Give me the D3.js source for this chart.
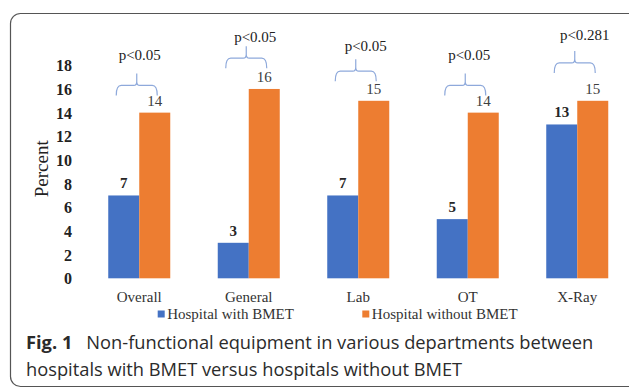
<!DOCTYPE html>
<html>
<head>
<meta charset="utf-8">
<script src="https://cdn.jsdelivr.net/npm/d3@7/dist/d3.min.js"></script>
<style>
  html, body { margin: 0; padding: 0; background: #fff; }
  svg { display: block; }
</style>
</head>
<body>
<svg id="chart" width="629" height="388"></svg>
<script>
// ---- data ----
const categories = ["Overall", "General", "Lab", "OT", "X-Ray"];
const seriesNames = ["Hospital with BMET", "Hospital without BMET"];
const withBMET = [7, 3, 7, 5, 13];
const withoutBMET = [14, 16, 15, 14, 15];
const pLabels = ["p<0.05", "p<0.05", "p<0.05", "p<0.05", "p<0.281"];
const bracketLevel = [16.3, 18.6, 17.5, 16.3, 18.2];   // in percent units
const pLabelLevel = [18.9, 20.4, 19.6, 18.9, 20.6];    // in percent units
const yTicks = [0, 2, 4, 6, 8, 10, 12, 14, 16, 18];
const captionBold = "Fig. 1";
const captionLine1 = "Non-functional equipment in various departments between";
const captionLine2 = "hospitals with BMET versus hospitals without BMET";

// ---- layout / style ----
const colors = ["#4472C4", "#ED7D31"];
const serif = "'Liberation Serif', 'Times New Roman', serif";
const svg = d3.select("#chart");

// frame
svg.append("rect")
  .attr("x", 10.5).attr("y", 13.5)
  .attr("width", 640).attr("height", 373)
  .attr("rx", 10).attr("ry", 10)
  .attr("fill", "none").attr("stroke", "#555").attr("stroke-width", 1.2);

const x0 = d3.scaleBand().domain(categories).range([84.5, 632]).padding(0);
const x1 = d3.scaleBand().domain(seriesNames).range([0, x0.bandwidth()]).paddingInner(0).paddingOuter(0.766);
const y = d3.scaleLinear().domain([0, 18]).range([278.3, 65.3]);

// y axis
const yAxis = d3.axisLeft(y).tickValues(yTicks).tickSize(0).tickPadding(0);
const gy = svg.append("g").attr("transform", "translate(72,0)").call(yAxis);
gy.select(".domain").remove();
gy.selectAll("text")
  .attr("font-family", serif).attr("font-size", 16).attr("font-weight", "bold")
  .attr("fill", "#222").attr("dy", "0.34em");

svg.append("text")
  .attr("transform", `translate(48,${(y(0) + y(18)) / 2 - 3}) rotate(-90)`)
  .attr("text-anchor", "middle")
  .attr("font-family", serif).attr("font-size", 19).attr("fill", "#222")
  .text("Percent");

// bars
const rows = categories.map((c, i) => ({ cat: c, vals: [withBMET[i], withoutBMET[i]] }));
const groups = svg.append("g").selectAll("g").data(rows).join("g")
  .attr("transform", d => `translate(${x0(d.cat)},0)`);
groups.selectAll("rect").data(d => d.vals.map((v, j) => ({ s: seriesNames[j], v, j }))).join("rect")
  .attr("x", d => x1(d.s)).attr("width", x1.bandwidth())
  .attr("y", d => y(d.v)).attr("height", d => y(0) - y(d.v))
  .attr("fill", d => colors[d.j]);
groups.selectAll("text.val").data(d => d.vals.map((v, j) => ({ s: seriesNames[j], v, j }))).join("text")
  .attr("class", "val")
  .attr("x", d => x1(d.s) + x1.bandwidth() / 2)
  .attr("y", d => y(d.v) - 7)
  .attr("text-anchor", "middle")
  .attr("font-family", serif).attr("font-size", 15)
  .attr("font-weight", d => d.j === 0 ? "bold" : "normal")
  .attr("fill", d => d.j === 0 ? "#262626" : "#404040")
  .text(d => d.v);

// category labels
svg.append("g").selectAll("text").data(categories).join("text")
  .attr("x", d => x0(d) + x0.bandwidth() / 2)
  .attr("y", 302)
  .attr("text-anchor", "middle")
  .attr("font-family", serif).attr("font-size", 15).attr("fill", "#333")
  .text(d => d);

// significance brackets
const br = svg.append("g").attr("fill", "none").attr("stroke", "#8EA9DB").attr("stroke-width", 1.2);
const pOffsets = [3, 9, 10, 4, 10];
categories.forEach((c, i) => {
  const cx = x0(c) + x0.bandwidth() / 2;
  const xl = cx - 23, xr = cx + 18, xm = (xl + xr) / 2;
  const yb = y(bracketLevel[i]);
  const p = d3.path();
  p.moveTo(xl, yb + 10);
  p.quadraticCurveTo(xl, yb, xl + 5, yb);
  p.lineTo(xm - 3, yb);
  p.quadraticCurveTo(xm, yb, xm, yb - 4);
  p.lineTo(xm, yb - 12);
  p.moveTo(xm, yb - 4);
  p.quadraticCurveTo(xm, yb, xm + 3, yb);
  p.lineTo(xr - 5, yb);
  p.quadraticCurveTo(xr, yb, xr, yb + 10);
  br.append("path").attr("d", p.toString());
  svg.append("text")
    .attr("x", xm + pOffsets[i]).attr("y", y(pLabelLevel[i]) + 5)
    .attr("text-anchor", "middle")
    .attr("font-family", serif).attr("font-size", 15).attr("fill", "#222")
    .text(pLabels[i]);
});

// legend
const legendX = [157.7, 362.3];
seriesNames.forEach((s, i) => {
  svg.append("rect").attr("x", legendX[i]).attr("y", 310.5).attr("width", 7).attr("height", 7).attr("fill", colors[i]);
  svg.append("text").attr("x", legendX[i] + 9.5).attr("y", 318.5)
    .attr("font-family", serif).attr("font-size", 15).attr("fill", "#333").text(s);
});

// caption
const capFont = "'Open Sans', 'Noto Sans', sans-serif";
const cap = svg.append("text").attr("x", 26).attr("y", 349)
  .attr("font-family", capFont).attr("font-size", 18.3).attr("fill", "#2b2b2b");
cap.append("tspan").attr("font-weight", "bold").text(captionBold);
cap.append("tspan").attr("dx", 14).text(captionLine1);
svg.append("text").attr("x", 26).attr("y", 376)
  .attr("font-family", capFont).attr("font-size", 18.3).attr("fill", "#2b2b2b")
  .text(captionLine2);
</script>
</body>
</html>
